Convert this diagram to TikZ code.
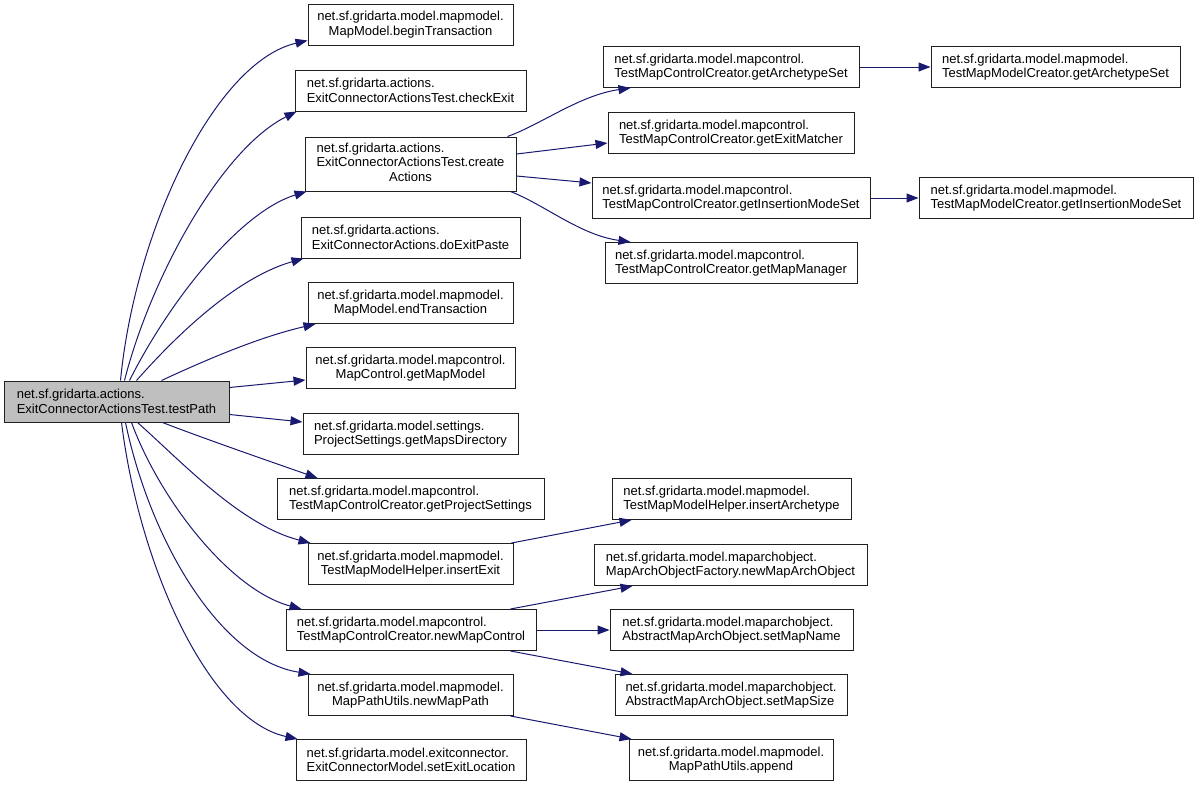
\documentclass[tikz,border=0pt]{standalone}
\usepackage{fontspec}
\setmainfont{Liberation Sans}
\usetikzlibrary{arrows.meta,calc}
\definecolor{edgeblue}{HTML}{191970}
\definecolor{rootgrey}{HTML}{BFBFBF}
\definecolor{boxline}{HTML}{202020}
\begin{document}
\begin{tikzpicture}[x=1pt,y=-1pt,
  box/.style={draw=boxline, line width=1pt, fill=white, inner sep=0pt, minimum height=41pt,
    font=\fontsize{13}{14.5}\selectfont},
  lbox/.style={box, align=left},
  cbox/.style={box, align=center},
  rootbox/.style={lbox, fill=rootgrey},
  edge/.style={draw=edgeblue, line width=1pt, -{Triangle[length=12pt,width=9pt]}}]
\useasboundingbox (0,0) rectangle (1197,787);
% root
\node[rootbox, minimum width=225pt] (root) at (116.5,401.5) {net.sf.gridarta.actions.\\ExitConnectorActionsTest.testPath};
% column 2
\node[cbox, minimum width=205pt] (n1) at (410.5,24.5) {net.sf.gridarta.model.mapmodel.\\MapModel.beginTransaction};
\node[lbox, minimum width=231pt] (n2) at (410.5,90.5) {net.sf.gridarta.actions.\\ExitConnectorActionsTest.checkExit};
\node[box, minimum width=211pt, minimum height=54pt] (n3) at (410.5,164) {\begin{tabular}{@{}l@{}}net.sf.gridarta.actions.\\ExitConnectorActionsTest.create\\\multicolumn{1}{@{}c@{}}{Actions}\end{tabular}};
\node[lbox, minimum width=219pt] (n4) at (410.5,237.5) {net.sf.gridarta.actions.\\ExitConnectorActions.doExitPaste};
\node[cbox, minimum width=205pt] (n5) at (410.5,303) {net.sf.gridarta.model.mapmodel.\\MapModel.endTransaction};
\node[cbox, minimum width=209pt] (n6) at (410.5,368) {net.sf.gridarta.model.mapcontrol.\\MapControl.getMapModel};
\node[lbox, minimum width=215pt] (n7) at (410.5,434) {net.sf.gridarta.model.settings.\\ProjectSettings.getMapsDirectory};
\node[lbox, minimum width=267pt] (n8) at (410.5,499) {net.sf.gridarta.model.mapcontrol.\\TestMapControlCreator.getProjectSettings};
\node[cbox, minimum width=205pt] (n9) at (410.5,564) {net.sf.gridarta.model.mapmodel.\\TestMapModelHelper.insertExit};
\node[lbox, minimum width=250pt] (n10) at (411,630) {net.sf.gridarta.model.mapcontrol.\\TestMapControlCreator.newMapControl};
\node[cbox, minimum width=205pt] (n11) at (410.5,695) {net.sf.gridarta.model.mapmodel.\\MapPathUtils.newMapPath};
\node[lbox, minimum width=230pt] (n12) at (411,760) {net.sf.gridarta.model.exitconnector.\\ExitConnectorModel.setExitLocation};
% column 3
\node[lbox, minimum width=256pt] (c1) at (731,67) {net.sf.gridarta.model.mapcontrol.\\TestMapControlCreator.getArchetypeSet};
\node[lbox, minimum width=246pt] (c2) at (731,133) {net.sf.gridarta.model.mapcontrol.\\TestMapControlCreator.getExitMatcher};
\node[lbox, minimum width=278pt] (c3) at (731,198) {net.sf.gridarta.model.mapcontrol.\\TestMapControlCreator.getInsertionModeSet};
\node[lbox, minimum width=252pt] (c4) at (731,263) {net.sf.gridarta.model.mapcontrol.\\TestMapControlCreator.getMapManager};
\node[lbox, minimum width=239pt] (c5) at (731.5,499) {net.sf.gridarta.model.mapmodel.\\TestMapModelHelper.insertArchetype};
\node[lbox, minimum width=273pt] (c6) at (730.5,565) {net.sf.gridarta.model.maparchobject.\\MapArchObjectFactory.newMapArchObject};
\node[lbox, minimum width=243pt] (c7) at (731.5,630) {net.sf.gridarta.model.maparchobject.\\AbstractMapArchObject.setMapName};
\node[lbox, minimum width=232pt] (c8) at (731,695) {net.sf.gridarta.model.maparchobject.\\AbstractMapArchObject.setMapSize};
\node[cbox, minimum width=204pt] (c9) at (731,760) {net.sf.gridarta.model.mapmodel.\\MapPathUtils.append};
% column 4
\node[lbox, minimum width=249pt] (d1) at (1055.5,67) {net.sf.gridarta.model.mapmodel.\\TestMapModelCreator.getArchetypeSet};
\node[lbox, minimum width=274pt] (d2) at (1056,198) {net.sf.gridarta.model.mapmodel.\\TestMapModelCreator.getInsertionModeSet};
% edges from root
\draw[edge] ($(root.north west)+(117,0)$) .. controls (135,230) and (215,62) .. ($(n1.south west)+(0,-5)$);
\draw[edge] ($(root.north west)+(121,0)$) .. controls (150,280) and (220,150) .. ($(n2.south west)+(2,0)$);
\draw[edge] ($(root.north west)+(126,0)$) .. controls (170,300) and (240,212) .. ($(n3.south west)+(2,0)$);
\draw[edge] ($(root.north west)+(133,0)$) .. controls (190,320) and (245,275) .. ($(n4.south west)+(3,0)$);
\draw[edge] ($(root.north west)+(158,0)$) .. controls (210,358) and (260,337) .. ($(n5.south west)+(8,0)$);
\draw[edge] ($(root.north east)+(0,7)$) -- ($(n6.west)+(0,12)$);
\draw[edge] ($(root.south east)+(0,-8)$) -- ($(n7.west)+(0,-12)$);
\draw[edge] ($(root.south west)+(159,0)$) .. controls (200,437) and (260,458) .. ($(n8.north west)+(41,0)$);
\draw[edge] ($(root.south west)+(134,0)$) .. controls (180,460) and (240,525) .. ($(n9.north west)+(3,0)$);
\draw[edge] ($(root.south west)+(128,0)$) .. controls (160,500) and (230,590) .. ($(n10.north west)+(16,0)$);
\draw[edge] ($(root.south west)+(122,0)$) .. controls (150,540) and (220,660) .. ($(n11.north west)+(3,0)$);
\draw[edge] ($(root.south west)+(118,0)$) .. controls (140,570) and (210,720) .. ($(n12.north west)+(2,0)$);
% edges from column 2
\draw[edge] ($(n3.north east)+(-9,0)$) .. controls (540,125) and (580,95) .. ($(c1.south west)+(28,0)$);
\draw[edge] ($(n3.east)+(0,-10)$) -- ($(c2.west)+(0,10)$);
\draw[edge] ($(n3.east)+(0,12)$) -- ($(c3.west)+(0,-15)$);
\draw[edge] ($(n3.south east)+(-6,0)$) .. controls (545,205) and (580,235) .. ($(c4.north west)+(26,0)$);
\draw[edge] (c1.east) -- (d1.west);
\draw[edge] (c3.east) -- (d2.west);
\draw[edge] ($(n9.north east)+(-2,0)$) -- ($(c5.south west)+(20,0)$);
\draw[edge] ($(n10.north east)+(-26,0)$) -- ($(c6.south west)+(39,0)$);
\draw[edge] (n10.east) -- (c7.west);
\draw[edge] ($(n10.south east)+(-26,0)$) -- ($(c8.north west)+(18,0)$);
\draw[edge] ($(n11.south east)+(-3,0)$) -- ($(c9.north west)+(3,0)$);
\end{tikzpicture}
\end{document}
